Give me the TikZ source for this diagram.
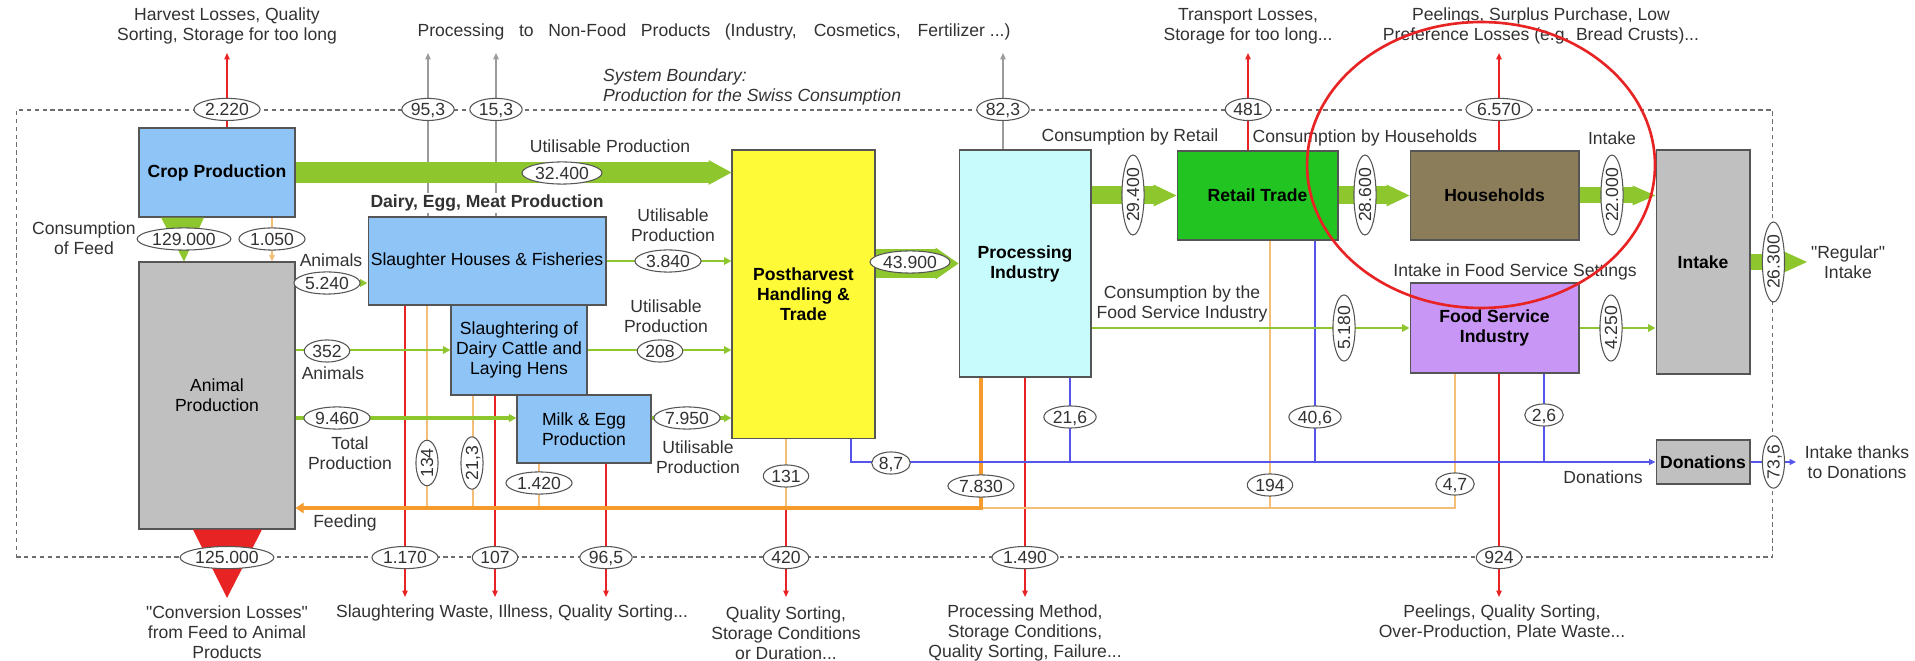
\documentclass[tikz,border=0pt]{standalone}
\usepackage{fontspec}
\setmainfont{Liberation Sans}[Ligatures=TeXOff]
\usetikzlibrary{calc,shapes.geometric,arrows.meta}

\definecolor{cropblue}{RGB}{143,196,246}
\definecolor{animgray}{RGB}{192,192,192}
\definecolor{phtyellow}{RGB}{255,250,55}
\definecolor{proccyan}{RGB}{200,252,252}
\definecolor{retgreen}{RGB}{34,196,34}
\definecolor{hhbrown}{RGB}{140,125,90}
\definecolor{fsipurple}{RGB}{200,150,245}
\definecolor{flowgreen}{RGB}{142,198,45}
\definecolor{feedorange}{RGB}{245,155,45}
\definecolor{feedlight}{RGB}{245,190,120}
\definecolor{lossred}{RGB}{232,35,35}
\definecolor{donblue}{RGB}{85,85,235}
\definecolor{nfgray}{RGB}{155,155,155}
\definecolor{txtgray}{RGB}{50,50,50}
\definecolor{boxline}{RGB}{85,85,85}
\definecolor{bndgray}{RGB}{110,110,110}

\begin{document}
\begin{tikzpicture}[x=0.02cm,y=-0.02cm,
  every node/.style={font=\fontsize{10}{11.4}\selectfont, text=txtgray},
  box/.style={draw=boxline, line width=0.6pt, align=center, inner sep=0.5pt, text=black},
  val/.style={ellipse, draw=boxline, fill=white, line width=0.6pt, inner xsep=0.8pt, inner ysep=0.6pt, text height=7.3pt, text depth=0.4pt},
  txt/.style={align=center},
  loss/.style={draw=lossred, line width=0.7pt, -{Triangle[length=0.13cm,width=0.11cm]}},
  nonfood/.style={draw=nfgray, line width=0.7pt, -{Triangle[length=0.13cm,width=0.11cm]}},
  feed/.style={draw=feedlight, line width=0.8pt},
  feedthick/.style={draw=feedorange, line width=2.2pt, -{Triangle[length=0.16cm,width=0.2cm]}},
  flow/.style={draw=flowgreen, line width=#1, -{Triangle[length=0.15cm,width=0.15cm]}},
  big/.style 2 args={draw=flowgreen, line width=#1, -{Triangle[length=0.46cm,width=#2,line width=0pt]}},
  don/.style={draw=donblue, line width=0.7pt},
]
\useasboundingbox (0,0) rectangle (1915,661);

\node[draw=bndgray, dash pattern=on 2.5pt off 2pt, line width=0.7pt, minimum width=35.14cm, minimum height=8.94cm, inner sep=0pt] (sys) at (894.5,333.5) {};

\node[box, fill=cropblue, minimum width=3.12cm, minimum height=1.78cm] (crop) at (217,172.5) {\textbf{Crop Production}};
\node[box, fill=animgray, minimum width=3.12cm, minimum height=5.34cm] (anim) at (217,395.5) {Animal\\Production};
\node[box, fill=cropblue, minimum width=4.76cm, minimum height=1.76cm] (slh) at (487,261) {Slaughter Houses \& Fisheries};
\node[box, fill=cropblue, minimum width=2.72cm, minimum height=1.8cm] (sdc) at (519,350) {Slaughtering of\\Dairy Cattle and\\Laying Hens};
\node[box, fill=cropblue, minimum width=2.68cm, minimum height=1.36cm] (meg) at (584,429) {Milk \& Egg\\Production};
\node[box, fill=phtyellow, minimum width=2.86cm, minimum height=5.78cm] (pht) at (803.5,294.5) {\textbf{Postharvest}\\\textbf{Handling \&}\\\textbf{Trade}};
\node[box, fill=proccyan, minimum width=2.64cm, minimum height=4.54cm] (proc) at (1025,263.5) {\textbf{Processing}\\\textbf{Industry}};
\node[box, fill=retgreen, minimum width=3.22cm, minimum height=1.78cm] (ret) at (1257.5,195.5) {\textbf{Retail Trade}};
\node[box, fill=hhbrown, minimum width=3.38cm, minimum height=1.78cm] (hh) at (1494.5,195.5) {\textbf{Households}};
\node[box, fill=fsipurple, minimum width=3.38cm, minimum height=1.8cm] (fsi) at (1494.5,328) {\textbf{Food Service}\\\textbf{Industry}};
\node[box, fill=animgray, minimum width=1.88cm, minimum height=4.48cm] (intk) at (1703,262) {\textbf{Intake}};
\node[box, fill=animgray, minimum width=1.88cm, minimum height=0.88cm] (don) at (1703,462) {\textbf{Donations}};

\coordinate (hl) at (227,53);
\coordinate (nf1) at (428,53);
\coordinate (nf2) at (496,53);
\coordinate (nf3) at (1003,53);
\coordinate (tl) at (1248,53);
\coordinate (pl) at (1499,53);
\coordinate (sl1) at (405,597);
\coordinate (sl2) at (495,597);
\coordinate (sl3) at (606,597);
\coordinate (ql) at (786,597);
\coordinate (pm) at (1025,597);
\coordinate (fw) at (1499,597);
\coordinate (cl) at (227,598);
\coordinate (cf) at (184,239);
\coordinate (c1050) at (272,239);
\coordinate (a5240) at (327,283);
\coordinate (a9460) at (337,418);
\coordinate (a7950) at (687,418);
\coordinate (ri) at (1807,262);
\coordinate (di) at (1796,462);
\coordinate (fd) at (981,508);
\coordinate (f134) at (427,508);
\coordinate (f213) at (473,508);
\coordinate (f142) at (539,508);
\coordinate (f131) at (786,508);
\coordinate (f194) at (1270,508);
\coordinate (f47) at (1455,508);
\coordinate (dn) at (851,462);
\coordinate (d216) at (1070,462);
\coordinate (d406) at (1315,462);
\coordinate (d26) at (1544,462);

\path[loss] (crop.north -| hl) to (hl);
\path[nonfood] (slh.north -| nf1) to (nf1);
\path[nonfood] (slh.north -| nf2) to (nf2);
\path[nonfood] (proc.north -| nf3) to (nf3);
\path[loss] (ret.north -| tl) to (tl);
\path[loss, line width=1.6pt] (hh.north -| pl) to (pl);

\path[loss] (slh.south -| sl1) to (sl1);
\path[loss] (sdc.south -| sl2) to (sl2);
\path[loss] (meg.south -| sl3) to (sl3);
\path[loss] (pht.south -| ql) to (ql);
\path[loss] (proc.south -| pm) to (pm);
\path[loss] (fsi.south -| fw) to (fw);

\fill[flowgreen] ($(crop.south -| cf)+(-23,0)$) -- ($(crop.south -| cf)+(20,0)$) -- (anim.north -| cf) -- cycle;
\fill[lossred] ($(anim.south -| cl)+(-34,0)$) -- ($(anim.south -| cl)+(35,0)$) -- (cl) -- cycle;
\path[feed, -{Triangle[length=0.13cm,width=0.11cm]}] (crop.south -| c1050) to (anim.north -| c1050);

\draw[feed] (fsi.south -| f47) -- (f47) -- (fd);
\path[feed] (ret.south -| f194) to (f194);
\path[feed] (pht.south -| f131) to (f131);
\path[feed] (slh.south -| f134) to (f134);
\path[feed] (sdc.south -| f213) to (f213);
\path[feed] (meg.south -| f142) to (f142);
\draw[feedthick] (proc.south -| fd) -- (fd) -- (anim.east |- fd);

\draw[don, -{Triangle[length=0.13cm,width=0.12cm]}] (pht.south -| dn) -- (dn) -- (don.west);
\path[don] (proc.south -| d216) to (d216);
\path[don] (ret.south -| d406) to (d406);
\path[don] (fsi.south -| d26) to (d26);
\path[don, -{Triangle[length=0.13cm,width=0.12cm]}] (don.east) to (di);

\path[flow=1.3pt] (anim.east |- a5240) to (slh.west |- a5240);
\path[flow=1pt] (anim.east |- sdc.west) to (sdc.west);
\path[flow=2.3pt] (anim.east |- a9460) to (meg.west |- a9460);
\path[flow=1.3pt] (slh.east) to (pht.west |- slh.east);
\path[flow=1pt] (sdc.east) to (pht.west |- sdc.east);
\path[flow=2.3pt] (meg.east |- a7950) to (pht.west |- a7950);
\path[flow=1.5pt] (fsi.west -| proc.east) to (fsi.west);
\path[flow=1.3pt] (fsi.east) to (intk.west |- fsi.east);

\path[big={0.42cm}{0.5cm}] (crop.east) to (pht.west |- crop.east);
\path[big={0.58cm}{0.64cm}] (pht.east |- proc.west) to (proc.west);
\path[big={0.36cm}{0.44cm}] (ret.west -| proc.east) to (ret.west);
\path[big={0.36cm}{0.44cm}] (ret.east) to (hh.west);
\path[big={0.32cm}{0.4cm}] (hh.east) to (intk.west |- hh.east);
\path[big={0.32cm}{0.42cm}] (intk.east) to (ri);

\node[val] (v2220) at (sys.north -| hl) {2.220};
\node[val] (v953) at (sys.north -| nf1) {95,3};
\node[val] (v153) at (sys.north -| nf2) {15,3};
\node[val] (v823) at (sys.north -| nf3) {82,3};
\node[val] (v481) at (sys.north -| tl) {481};
\node[val] (v6570) at (sys.north -| pl) {6.570};
\node[val] (v129) at (cf) {129.000};
\node[val] (v1050) at (c1050) {1.050};
\node[val] (v125) at (sys.south -| cl) {125.000};
\node[val] (v5240) at (a5240) {5.240};
\node[val] (v352) at (327,351) {352};
\node[val] (v9460) at (a9460) {9.460};
\node[val] (v3840) at (668,261) {3.840};
\node[val] (v208) at (660,351) {208};
\node[val] (v7950) at (a7950) {7.950};
\node[val] (v32400) at (562,173) {32.400};
\node[val] (v43900) at (910,262) {43.900};
\node[val, rotate=90] (v29400) at (1133,195) {29.400};
\node[val, rotate=90] (v28600) at (1365,195) {28.600};
\node[val, rotate=90] (v22000) at (1612,195) {22.000};
\node[val, rotate=90] (v26300) at (sys.east |- intk.east) {26.300};
\node[val, rotate=90] (v5180) at (1344,328) {5.180};
\node[val, rotate=90] (v4250) at (1611,328) {4.250};
\node[val, rotate=90] (v736) at (sys.east |- don.east) {73,6};
\node[val, rotate=90] (v134) at (427,463) {134};
\node[val, rotate=90] (v213) at (472,463) {21,3};
\node[val] (v1420) at (539,483) {1.420};
\node[val] (v1170) at (sys.south -| sl1) {1.170};
\node[val] (v107) at (sys.south -| sl2) {107};
\node[val] (v965) at (sys.south -| sl3) {96,5};
\node[val] (v131) at (786,476) {131};
\node[val] (v420) at (sys.south -| ql) {420};
\node[val] (v87) at (891,463) {8,7};
\node[val] (v7830) at (981,486) {7.830};
\node[val] (v216) at (1070,417) {21,6};
\node[val] (v1490) at (sys.south -| pm) {1.490};
\node[val] (v406) at (1315,417) {40,6};
\node[val] (v194) at (1270,485) {194};
\node[val] (v47) at (1455,484) {4,7};
\node[val] (v26) at (1544,415) {2,6};
\node[val] (v924) at (sys.south -| fw) {924};

\node[txt] (t1) at (227,26) {Harvest Losses, Quality\\Sorting, Storage for too long};
\node (t2) at (714,32) {\makebox[11.86cm][s]{Processing to Non-Food Products (Industry, Cosmetics, \hbox{Fertilizer ...)}}};
\node[align=left, anchor=west, font=\fontsize{10}{11.4}\selectfont\itshape] (t3) at (597,87) {System Boundary:\\Production for the Swiss Consumption};
\node[txt] (t4) at (1248,26) {Transport Losses,\\Storage for too long...};
\node[txt] (t5) at (1541,26) {Peelings, Surplus Purchase, Low\\Preference Losses (e.g. Bread Crusts)...};
\node[txt] (t6) at (84,238) {Consumption\\of Feed};
\node[fill=white, inner sep=1pt] (t7) at (487,203) {\textbf{Dairy, Egg, Meat Production}};
\node (t8) at (610,146) {Utilisable Production};
\node (t9) at (331,260) {Animals};
\node (t10) at (333,373) {Animals};
\node[txt] (t11) at (350,453) {Total\\Production};
\node[txt] (t12) at (673,225) {Utilisable\\Production};
\node[txt] (t13) at (666,316) {Utilisable\\Production};
\node[txt] (t14) at (698,457) {Utilisable\\Production};
\node (t15) at (345,523) {Feeding};
\node[txt] (t16) at (227,632) {"Conversion Losses"\\from Feed to Animal\\Products};
\node (t17) at (512,613) {Slaughtering Waste, Illness, Quality Sorting...};
\node[txt] (t18) at (786,633) {Quality Sorting,\\Storage Conditions\\or Duration...};
\node[txt] (t19) at (1025,633) {Processing Method,\\Storage Conditions,\\Quality Sorting, Failure...};
\node[txt] (t20) at (1502,622) {Peelings, Quality Sorting,\\Over-Production, Plate Waste...};
\node (t21) at (1130,137) {Consumption by Retail};
\node (t22) at (1365,138) {Consumption by Households};
\node (t23) at (1612,138) {Intake};
\node[txt] (t24) at (1182,304) {Consumption by the\\Food Service Industry};
\node (t25) at (1515,272) {Intake in Food Service Settings};
\node[txt] (t26) at (1848,262) {"Regular"\\Intake};
\node[txt] (t27) at (1857,462) {Intake thanks\\to Donations};
\node (t28) at (1603,477) {Donations};

\draw[lossred, line width=1.5pt] (1481,165) ellipse [x radius=3.48cm, y radius=2.86cm];

\end{tikzpicture}
\end{document}
